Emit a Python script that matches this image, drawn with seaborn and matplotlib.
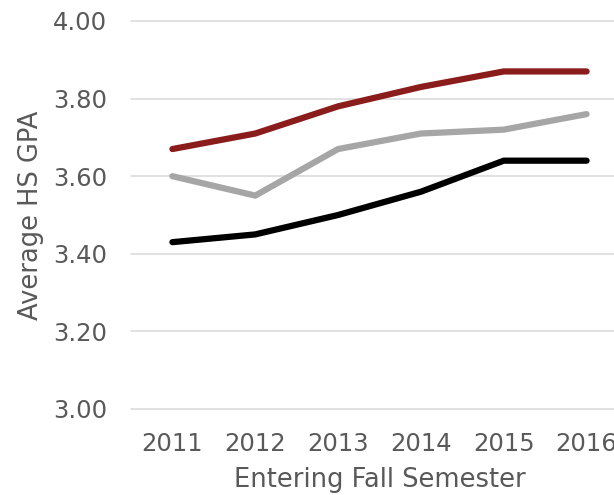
import matplotlib
matplotlib.use("Agg")
import matplotlib.pyplot as plt
import seaborn as sns
import pandas as pd

years = [2011, 2012, 2013, 2014, 2015, 2016]
series_top = [3.67, 3.71, 3.78, 3.83, 3.87, 3.87]
series_mid = [3.60, 3.55, 3.67, 3.71, 3.72, 3.76]
series_low = [3.43, 3.45, 3.50, 3.56, 3.64, 3.64]
series_names = ["Group A", "Group B", "Group C"]
colors = ["#8B1C1C", "#A6A6A6", "#000000"]
y_ticks = [3.00, 3.20, 3.40, 3.60, 3.80, 4.00]

rows = []
for name, vals in zip(series_names, [series_top, series_mid, series_low]):
    for yr, v in zip(years, vals):
        rows.append({"year": yr, "gpa": v, "series": name})
df = pd.DataFrame(rows)

sns.set_style("white")
plt.rcParams["font.family"] = ["DejaVu Sans"]
text_color = "#595959"

fig = plt.figure(figsize=(6.14, 4.95), dpi=100)
ax = fig.add_axes([131 / 614, 1 - 409 / 495, 497 / 614, 388 / 495])

sns.lineplot(data=df, x="year", y="gpa", hue="series", palette=colors,
             linewidth=4.5, legend=False, ax=ax)
for ln in ax.get_lines():
    ln.set_solid_capstyle("round")
    ln.set_solid_joinstyle("round")

ax.set_xlim(2010.5, 2016.5)
ax.set_ylim(3.0, 4.0)
ax.set_xticks(years)
ax.set_xticklabels([str(y) for y in years])
ax.set_yticks(y_ticks)
ax.set_yticklabels([f"{v:.2f}" for v in y_ticks])

ax.grid(axis="y", color="#D9D9D9", linewidth=1.1)
ax.grid(axis="x", visible=False)
ax.set_axisbelow(True)
for gl in ax.get_ygridlines():
    gl.set_clip_on(False)
for s in ax.spines.values():
    s.set_visible(False)

ax.tick_params(axis="both", length=0, labelsize=17.5, labelcolor=text_color)
ax.tick_params(axis="y", pad=17)
ax.tick_params(axis="x", pad=16.5)

ax.set_xlabel("Entering Fall Semester", fontsize=18.5, color=text_color, labelpad=8)
ax.set_ylabel("Average HS GPA", fontsize=18.5, color=text_color, labelpad=7)

fig.savefig("out.png", dpi=100)
